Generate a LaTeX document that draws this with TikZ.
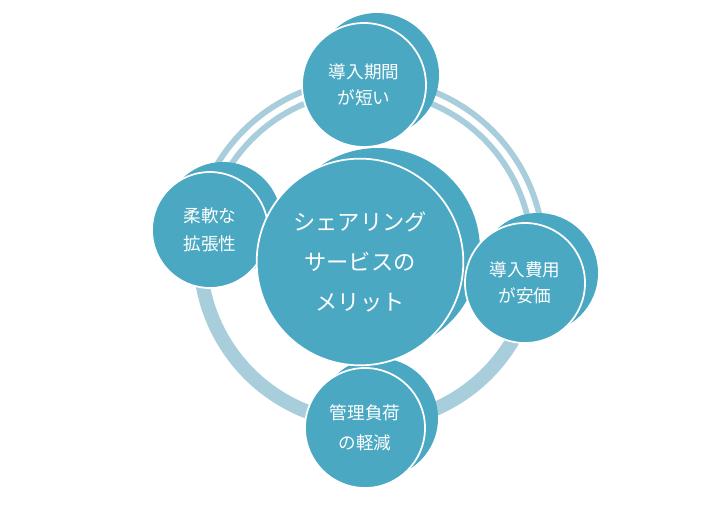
\documentclass[tikz,border=0pt]{standalone}
\usepackage{fontspec}
\setmainfont{Noto Sans CJK JP}
\usetikzlibrary{positioning}
\definecolor{tealmain}{HTML}{4AA8C2}
\definecolor{ringblue}{HTML}{A9CEDB}
\tikzset{
  bubble/.style={circle, fill=tealmain, draw=white, line width=1.5pt,
                 text=white, align=center, inner sep=0pt},
  ring/.style={ringblue, line width=12pt},
  ringpair/.style={ringblue, line width=5pt}
}
\begin{document}
\begin{tikzpicture}[x=0.03cm, y=-0.03cm]
  \useasboundingbox (0,0) rectangle (720,507);
  % ring around the centre
  \coordinate (hub) at (368,255);
  \draw[ring] (hub) ++(100:168) arc (100:185:168);
  \draw[ringpair] (hub) ++(-5:164) arc (-5:-82:164);
  \draw[ringpair] (hub) ++(-5:176) arc (-5:-82:176);
  \draw[ring] (hub) ++(15:168) arc (15:85:168);
  \draw[ringpair] (hub) ++(195:164) arc (195:262:164);
  \draw[ringpair] (hub) ++(195:176) arc (195:262:176);
  % back copies
  \foreach \x/\y/\r in {210/230/58, 364/85/62, 525/283/60, 365/428/60}
    \fill[tealmain] (\x+13,\y-10) circle (\r);
  \fill[tealmain] (378,250) circle (102);
  % front circles
  \node[bubble, minimum size=3.48cm, font=\fontsize{15}{24}\selectfont] (left) at (210,230) {柔軟な\\拡張性};
  \node[bubble, minimum size=3.72cm, font=\fontsize{15}{22}\selectfont] (top) at (364,85) {導入期間\\が短い};
  \node[bubble, minimum size=3.6cm, font=\fontsize{15}{22}\selectfont] (right) at (525,283) {導入費用\\が安価};
  \node[bubble, minimum size=3.6cm, font=\fontsize{15}{26}\selectfont] (bottom) at (365,428) {管理負荷\\の軽減};
  \node[bubble, minimum size=6.2cm, font=\fontsize{19}{34}\selectfont] (hubtext) at (360,262) {シェアリング\\サービスの\\メリット};
\end{tikzpicture}
\end{document}
